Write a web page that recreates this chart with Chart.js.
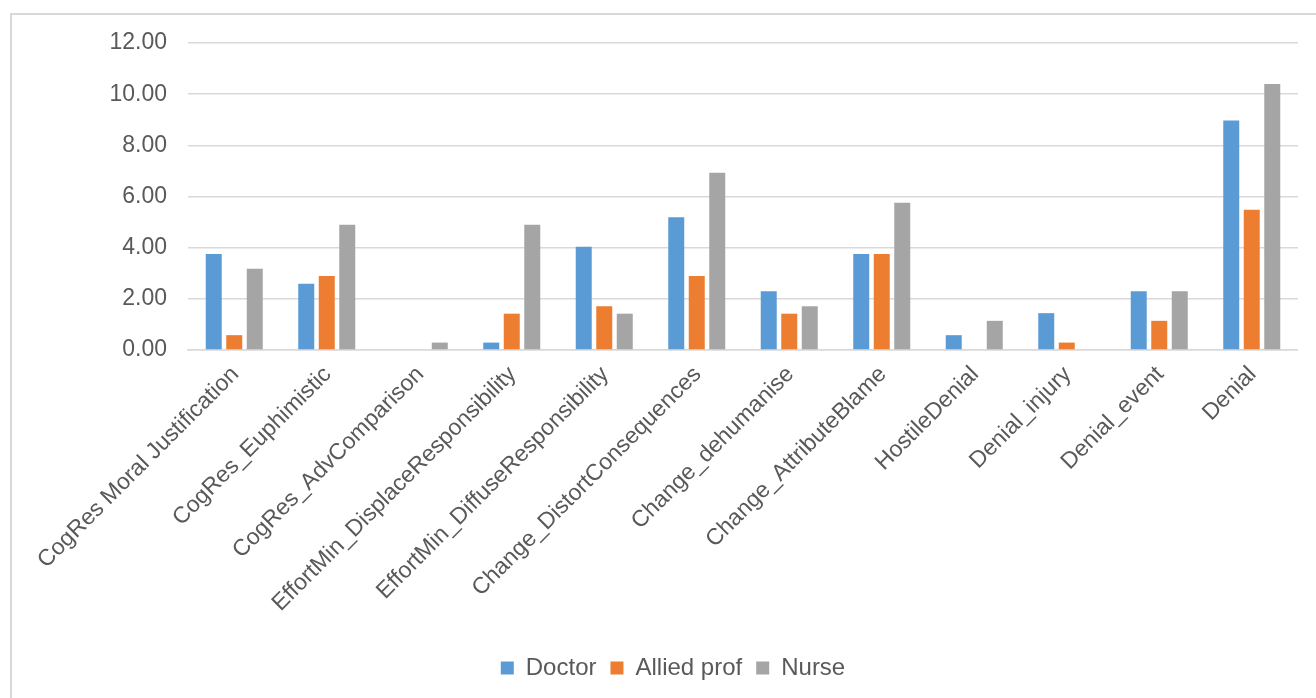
<!DOCTYPE html>
<html>
<head>
<meta charset="utf-8">
<script src="https://cdn.jsdelivr.net/npm/chart.js@4.4.0/dist/chart.umd.min.js"></script>
<style>
  html, body { margin: 0; padding: 0; background: #fff; overflow: hidden; }
  #frame { position: absolute; left: 10px; top: 13px; width: 1400px; height: 800px; border: 2px solid #d9d9d9; box-sizing: border-box; }
  #wrap { position: absolute; left: 0; top: 0; width: 1298px; height: 698px; }
</style>
</head>
<body>
<div id="frame"></div>
<div id="wrap"><canvas id="chart"></canvas></div>
<script>
const categories = [
    "CogRes Moral Justification", "CogRes_Euphimistic", "CogRes_AdvComparison",
    "EffortMin_DisplaceResponsibility", "EffortMin_DiffuseResponsibility",
    "Change_DistortConsequences", "Change_dehumanise", "Change_AttributeBlame",
    "HostileDenial", "Denial_injury", "Denial_event", "Denial"
];
const doctor = [3.75, 2.59, 0, 0.29, 4.04, 5.19, 2.30, 3.75, 0.58, 1.44, 2.30, 8.97];
const allied = [0.58, 2.89, 0, 1.42, 1.71, 2.89, 1.42, 3.75, 0, 0.29, 1.14, 5.48];
const nurse = [3.18, 4.90, 0.29, 4.90, 1.42, 6.93, 1.71, 5.76, 1.14, 0, 2.30, 10.40];
const yTicks = [0, 2, 4, 6, 8, 10, 12];

const textColor = '#595959';
const gridColor = '#d9d9d9';

const chart = new Chart(document.getElementById('chart'), {
    type: 'bar',
    data: {
        labels: categories,
        datasets: [
            { label: 'Doctor', data: doctor, backgroundColor: '#5B9BD5' },
            { label: 'Allied prof', data: allied, backgroundColor: '#ED7D31' },
            { label: 'Nurse', data: nurse, backgroundColor: '#A5A5A5' }
        ]
    },
    options: {
        responsive: true,
        maintainAspectRatio: false,
        animation: false,
        // left padding keeps the legend centred where the original sits
        layout: { padding: { left: 48, right: 0, top: 43, bottom: 8 } },
        datasets: { bar: { categoryPercentage: 0.665, barPercentage: 0.78 } },
        plugins: {
            tooltip: { enabled: false },
            legend: {
                position: 'bottom',
                labels: {
                    color: textColor,
                    font: { family: 'Liberation Sans, Arial, sans-serif', size: 24 },
                    boxWidth: 13,
                    boxHeight: 13,
                    padding: 14
                }
            }
        },
        scales: {
            x: {
                grid: { display: false },
                border: { display: true, color: gridColor, width: 1.5 },
                ticks: {
                    color: textColor,
                    font: { family: 'Liberation Sans, Arial, sans-serif', size: 23 },
                    minRotation: 45,
                    maxRotation: 45,
                    autoSkip: false,
                    padding: 3,
                    labelOffset: 1
                },
                afterFit: (scale) => { scale.height = 292; }
            },
            y: {
                min: 0,
                max: 12,
                afterBuildTicks: (scale) => { scale.ticks = yTicks.map(v => ({ value: v })); },
                grid: { color: gridColor, lineWidth: 1.5, drawTicks: false },
                border: { display: false },
                ticks: {
                    color: textColor,
                    font: { family: 'Liberation Sans, Arial, sans-serif', size: 23 },
                    padding: 21,
                    callback: (v) => Number(v).toFixed(2)
                },
                afterFit: (scale) => { scale.width = 140; }
            }
        }
    }
});
</script>
</body>
</html>
